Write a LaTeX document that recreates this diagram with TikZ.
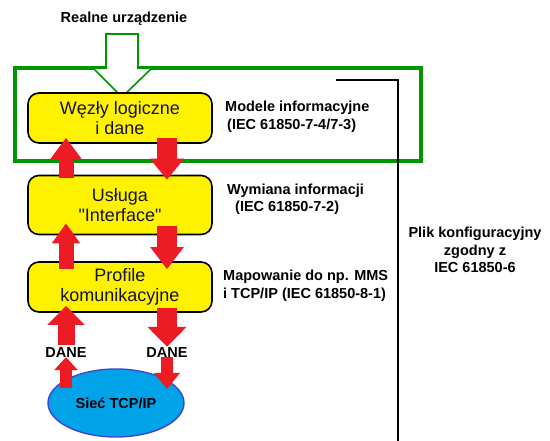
\documentclass[tikz,border=0pt]{standalone}
\usepackage{fontspec}
\setmainfont{Liberation Sans}[Ligatures=TeXOff]
\usetikzlibrary{arrows.meta, positioning, calc, shapes.geometric}

\definecolor{boxyellow}{RGB}{255,242,0}
\definecolor{boxtext}{RGB}{20,20,45}
\definecolor{flowred}{RGB}{237,28,36}
\definecolor{devicegreen}{RGB}{0,150,0}
\definecolor{netfill}{RGB}{0,162,232}
\definecolor{netblue}{RGB}{63,72,204}

\begin{document}
\begin{tikzpicture}[x=1pt, y=-1pt,
  layer/.style={draw, line width=1.6pt, fill=boxyellow, rounded corners=11pt,
    minimum width=184pt, align=center, text=boxtext,
    font=\fontsize{18}{20}\selectfont},
  note/.style={inner sep=0pt, font=\bfseries\fontsize{14.5}{17.5}\selectfont},
  flow/.style n args={3}{draw=flowred, line width=#1,
    -{Triangle[width=#2, length=#3]}}]

  % Fix the page to the size of the reference
  \useasboundingbox (0,0) rectangle (550,441);

  % Green frame of the real device and the configuration bracket
  \draw[devicegreen, line width=4pt] (15,68) rectangle (421,161);
  \coordinate (bracket) at (336,80);
  \draw[line width=2.4pt] (bracket) -| (398,445);

  % Hollow arrow from the real device
  \node[note] (realne) at (124,19) {Realne urządzenie};
  \draw[devicegreen, line width=1.6pt, fill=white]
    (106,34) -- (138,34) -- (138,68) -- (152,68) -- (122,97)
    -- (93,68) -- (106,68) -- cycle;

  % The three layers
  \node[layer, minimum height=50pt] (wezly) at (120,118) {Węzły logiczne\\i dane};
  \node[layer, minimum height=59pt] (usluga) at (120,205) {Usługa\\"Interface"};
  \node[layer, minimum height=50pt] (profile) at (120,287) {Profile\\komunikacyjne};

  % Descriptions on the right
  \node[note, anchor=west, align=left] (modele) at (225,117)
    {Modele informacyjne\\\hspace*{2pt}(IEC 61850-7-4/7-3)};
  \node[note, anchor=west, align=left] (wymiana) at (227,199.5)
    {Wymiana informacji\\\hspace*{8pt}(IEC 61850-7-2)};
  \node[note, anchor=west, align=left] (mapowanie) at (223,286)
    {Mapowanie do np. MMS\\i TCP/IP (IEC 61850-8-1)};
  \node[note, align=center] (plik) at (475,250)
    {Plik konfiguracyjny\\zgodny z\\IEC 61850-6};

  % Network and data labels
  \node[note] (dane1) at (66,353) {DANE};
  \node[note] (dane2) at (167,353) {DANE};
  \node[ellipse, draw=netblue, line width=1.4pt, fill=netfill, inner sep=0pt,
    minimum width=136pt, minimum height=68pt,
    font=\bfseries\fontsize{14.5}{17.5}\selectfont] (siec) at (116,403) {Sieć TCP/IP};

  % Red data flows between the layers
  \draw[flow={15pt}{31pt}{22pt}, shorten <=-3pt, shorten >=-6pt]
    ([xshift=-54pt]usluga.north) -- ([xshift=-54pt]wezly.south);
  \draw[flow={20pt}{33pt}{21pt}, shorten <=-6pt, shorten >=-5pt]
    ([xshift=47pt]wezly.south) -- ([xshift=47pt]usluga.north);
  \draw[flow={15pt}{27pt}{20pt}, shorten <=-8pt, shorten >=-12pt]
    ([xshift=-54pt]profile.north) -- ([xshift=-54pt]usluga.south);
  \draw[flow={20pt}{32pt}{22pt}, shorten <=-9pt, shorten >=-8pt]
    ([xshift=47pt]usluga.south) -- ([xshift=47pt]profile.north);
  \draw[flow={17pt}{36pt}{19pt}, shorten <=3pt, shorten >=-7pt]
    (dane1.north) -- ([xshift=-54pt]profile.south);
  \draw[flow={20pt}{38pt}{20pt}, shorten <=-5pt, shorten >=1pt]
    ([xshift=47pt]profile.south) -- (dane2.north);
  \draw[flow={12pt}{23pt}{13pt}, shorten <=15pt, shorten >=-1pt]
    (dane1.south |- siec.center) -- (dane1.south);
  \draw[flow={12pt}{25pt}{16pt}, shorten <=-1pt, shorten >=14pt]
    (dane2.south) -- (dane2.south |- siec.center);

\end{tikzpicture}
\end{document}
